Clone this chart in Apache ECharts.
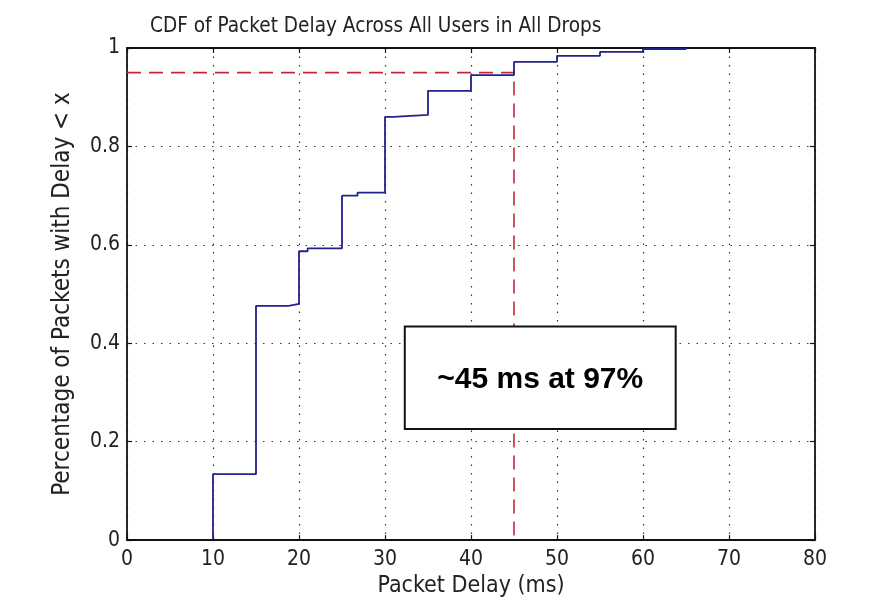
<!DOCTYPE html>
<html>
<head>
<meta charset="utf-8">
<script src="https://cdn.jsdelivr.net/npm/echarts@6/dist/echarts.min.js"></script>
<style>
html,body{margin:0;padding:0;background:#fff;}
#c{width:887px;height:603px;}
</style>
</head>
<body>
<div id="c"></div>
<script>
// Data
var delays = [10, 10, 15, 18.8, 20, 21, 25, 26.8, 30, 31, 35, 40, 45, 50, 55, 60, 65];
var cdf    = [0, 0.134, 0.476, 0.48, 0.587, 0.593, 0.700, 0.706, 0.860, 0.864, 0.913, 0.945, 0.972, 0.984, 0.992, 0.998, 1.0];
var refX = [0, 45, 45];
var refY = [0.95, 0.95, 0];
var xTicks = [0, 10, 20, 30, 40, 50, 60, 70, 80];
var yTicks = [0, 0.2, 0.4, 0.6, 0.8, 1];
var annotText = '~45 ms at 97%';
var annotBox = {x0: 32.3, x1: 63.8, y0: 0.226, y1: 0.434};

var FONT = '"DejaVu Sans Condensed", "Liberation Sans Narrow", "Liberation Sans", Arial, sans-serif';

var chart = echarts.init(document.getElementById('c'));
var cdfData = delays.map(function (d, i) { return [d, cdf[i]]; });
var refData = refX.map(function (d, i) { return [d, refY[i]]; });

function baseAxis() {
  return {
    axisLine: {show: true, onZero: false, lineStyle: {color: '#111', width: 1.8}},
    axisTick: {show: true, inside: true, length: 5, lineStyle: {color: '#111', width: 1.2}},
    splitLine: {show: false}
  };
}

var option = {
  backgroundColor: '#fff',
  animation: false,
  title: {
    text: 'CDF of Packet Delay Across All Users in All Drops',
    left: 145, top: 11,
    textStyle: {fontFamily: FONT, fontSize: 20.6, fontWeight: 'normal', color: '#222'}
  },
  grid: {left: 127, right: 72, top: 48, bottom: 60, containLabel: false},
  xAxis: [
    Object.assign(baseAxis(), {
      type: 'value', min: 0, max: 80, interval: 10, position: 'bottom',
      name: 'Packet Delay (ms)', nameLocation: 'middle', nameGap: 33,
      nameTextStyle: {fontFamily: FONT, fontSize: 23, color: '#222'},
      axisLabel: {fontFamily: FONT, fontSize: 21, color: '#222', margin: 9,
        formatter: function (v) { return xTicks.indexOf(v) >= 0 ? String(v) : ''; }},
      splitLine: {show: true, lineStyle: {color: '#333', type: [1.5, 7], width: 1.2}}
    }),
    Object.assign(baseAxis(), {
      type: 'value', min: 0, max: 80, interval: 10, position: 'top',
      axisLabel: {show: false}
    })
  ],
  yAxis: [
    Object.assign(baseAxis(), {
      type: 'value', min: 0, max: 1, interval: 0.2, position: 'left',
      name: 'Percentage of Packets with Delay < x', nameLocation: 'middle', nameGap: 52,
      nameTextStyle: {fontFamily: FONT, fontSize: 24, color: '#222'},
      axisLabel: {fontFamily: FONT, fontSize: 21, color: '#222', margin: 7,
        formatter: function (v) {
          var t = yTicks.filter(function (k) { return Math.abs(k - v) < 1e-9; });
          return t.length ? String(t[0]) : '';
        }},
      splitLine: {show: true, lineStyle: {color: '#333', type: [1.5, 7], width: 1.2}}
    }),
    Object.assign(baseAxis(), {
      type: 'value', min: 0, max: 1, interval: 0.2, position: 'right',
      axisLabel: {show: false}
    })
  ],
  series: [
    {
      type: 'line', name: 'ref', data: refData, symbol: 'none', z: 2,
      lineStyle: {color: '#c42838', width: 1.6, type: [14, 8]}
    },
    {
      type: 'line', name: 'cdf', data: cdfData, step: 'end', symbol: 'none', z: 3,
      lineStyle: {color: '#22228c', width: 1.8}
    }
  ]
};
chart.setOption(option);

var p0 = chart.convertToPixel({xAxisIndex: 0, yAxisIndex: 0}, [annotBox.x0, annotBox.y1]);
var p1 = chart.convertToPixel({xAxisIndex: 0, yAxisIndex: 0}, [annotBox.x1, annotBox.y0]);
chart.setOption({
  graphic: [
    {
      type: 'rect', z: 100,
      shape: {x: p0[0], y: p0[1], width: p1[0] - p0[0], height: p1[1] - p0[1]},
      style: {fill: '#fff', stroke: '#111', lineWidth: 2}
    },
    {
      type: 'text', z: 101,
      x: (p0[0] + p1[0]) / 2, y: (p0[1] + p1[1]) / 2 + 2,
      style: {text: annotText, fill: '#000', font: 'bold 30px "Liberation Sans", Arial, sans-serif',
        align: 'center', verticalAlign: 'middle'}
    }
  ]
});
</script>
</body>
</html>
